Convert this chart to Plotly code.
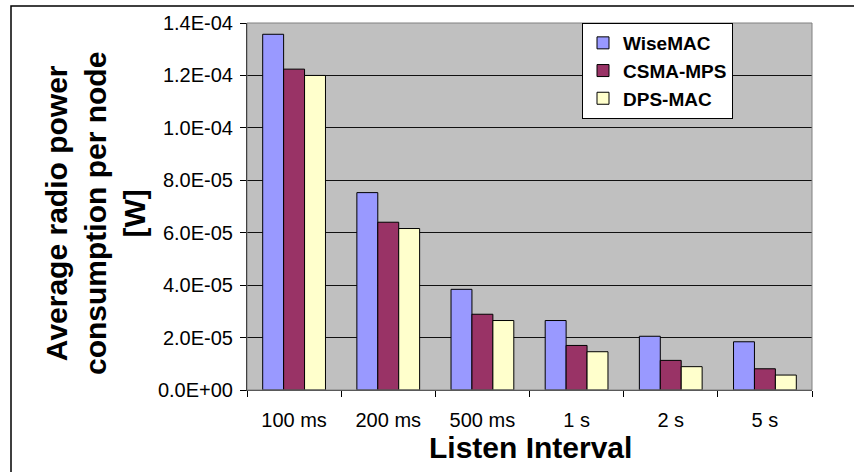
import plotly.graph_objects as go

categories = ["100 ms", "200 ms", "500 ms", "1 s", "2 s", "5 s"]
wisemac = [1.357e-4, 7.53e-5, 3.84e-5, 2.65e-5, 2.05e-5, 1.84e-5]
csma_mps = [1.224e-4, 6.40e-5, 2.89e-5, 1.70e-5, 1.13e-5, 0.81e-5]
dps_mac = [1.200e-4, 6.16e-5, 2.65e-5, 1.46e-5, 0.89e-5, 0.57e-5]
series_names = ["WiseMAC", "CSMA-MPS", "DPS-MAC"]
colors = ["#9999FF", "#993366", "#FFFFCC"]
y_tickvals = [0, 2e-5, 4e-5, 6e-5, 8e-5, 1.0e-4, 1.2e-4, 1.4e-4]
y_ticktext = ["0.0E+00", "2.0E-05", "4.0E-05", "6.0E-05", "8.0E-05", "1.0E-04", "1.2E-04", "1.4E-04"]

FONT = "Arial, Liberation Sans, sans-serif"

fig = go.Figure()
for name, vals, col in zip(series_names, [wisemac, csma_mps, dps_mac], colors):
    fig.add_trace(go.Bar(
        x=categories, y=vals, name=name,
        marker=dict(color=col, line=dict(color="black", width=1)),
    ))

W, H = 854, 472
L, R, T, B = 247, 812, 23, 390
pw, ph = R - L, B - T

def px(x):
    return (x - L) / pw

def py(y):
    return (B - y) / ph

fig.update_layout(
    width=W, height=H,
    margin=dict(l=L, r=W - R, t=T, b=H - B),
    paper_bgcolor="white",
    plot_bgcolor="#C0C0C0",
    barmode="group",
    bargap=1.5 / 4.5,
    bargroupgap=0,
    font=dict(family=FONT, color="black", size=20),
    showlegend=True,
    legend=dict(
        x=px(582), y=1.0, xanchor="left", yanchor="top",
        bgcolor="white", bordercolor="black", borderwidth=1,
        font=dict(family=FONT, size=19, color="black", weight="bold"),
        itemwidth=30,
        tracegroupgap=0,
    ),
    xaxis=dict(
        type="category",
        showgrid=False,
        showline=True, linecolor="#333333", linewidth=1,
        ticks="outside", ticklen=6, tickcolor="black",
        tickson="boundaries",
        tickfont=dict(size=20, family=FONT, color="black"),
        ticklabelstandoff=12,
    ),
    yaxis=dict(
        range=[0, 1.4e-4],
        tickvals=y_tickvals, ticktext=y_ticktext,
        showgrid=True, gridcolor="#111111", gridwidth=1,
        zeroline=False,
        showline=True, linecolor="black", linewidth=1,
        ticks="outside", ticklen=6, tickcolor="black",
        tickfont=dict(size=20, family=FONT, color="black"),
        ticklabelstandoff=3,
    ),
    shapes=[
        dict(type="rect", xref="paper", yref="paper", x0=0, y0=0, x1=1, y1=1,
             line=dict(color="#808080", width=1), layer="above"),
        dict(type="rect", xref="paper", yref="paper",
             x0=px(11), y0=py(H + 20), x1=px(W + 20), y1=py(6),
             line=dict(color="black", width=1.5)),
    ],
    annotations=[
        dict(text="Average radio power<br>consumption per node<br>[W]",
             xref="paper", yref="paper", x=px(95), y=py(214),
             xanchor="center", yanchor="middle", textangle=-90, showarrow=False,
             font=dict(family=FONT, size=30, color="black", weight="bold")),
        dict(text="Listen Interval",
             xref="paper", yref="paper", x=px(530), y=py(448),
             xanchor="center", yanchor="middle", showarrow=False,
             font=dict(family=FONT, size=30, color="black", weight="bold")),
    ],
)

fig.write_html("out.html")
